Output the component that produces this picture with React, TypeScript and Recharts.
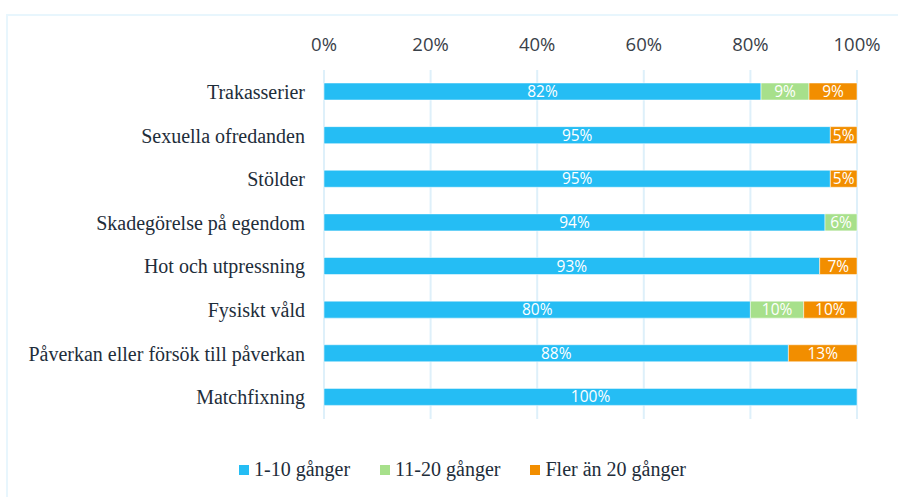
import { BarChart, Bar, XAxis, YAxis, CartesianGrid, Legend, LabelList } from 'recharts'

const categories = [
  'Trakasserier',
  'Sexuella ofredanden',
  'Stölder',
  'Skadegörelse på egendom',
  'Hot och utpressning',
  'Fysiskt våld',
  'Påverkan eller försök till påverkan',
  'Matchfixning',
]
const low = [82, 95, 95, 94, 93, 80, 88, 100]
const mid = [9, 0, 0, 6, 0, 10, 0, 0]
const high = [9, 5, 5, 0, 7, 10, 13, 0]
const xTicks = [0, 0.2, 0.4, 0.6, 0.8, 1]

const series = [
  { key: 'low', name: '1-10 gånger', color: '#25bdf4' },
  { key: 'mid', name: '11-20 gånger', color: '#a7e08b' },
  { key: 'high', name: 'Fler än 20 gånger', color: '#f28e00' },
]

const data = categories.map((name, i) => ({ name, low: low[i], mid: mid[i], high: high[i] }))

const serif = '"Liberation Serif", "DejaVu Serif", serif'
const sans = '"Open Sans", "Noto Sans", sans-serif'

function LegendContent() {
  return (
    <div style={{ display: 'flex', justifyContent: 'center', gap: 30, paddingLeft: 68, fontFamily: serif, fontSize: 20, color: '#1e2d3a' }}>
      {series.map(s => (
        <div key={s.key} style={{ display: 'flex', alignItems: 'center', gap: 5 }}>
          <span style={{ width: 10, height: 10, background: s.color, display: 'inline-block' }} />
          <span>{s.name}</span>
        </div>
      ))}
    </div>
  )
}

export default function App() {
  return (
    <div style={{ position: 'absolute', left: 0, top: 0, width: 898, height: 497, overflow: 'hidden', background: '#fff' }}>
      <div style={{ position: 'absolute', left: 6, top: 14, width: 1000, height: 600, borderTop: '2px solid #e8f6fd', borderLeft: '2px solid #e8f6fd' }} />
      <BarChart
        width={898}
        height={497}
        data={data}
        layout="vertical"
        stackOffset="expand"
        barSize={17}
        margin={{ top: 0, right: 41, left: 0, bottom: 55 }}
      >
        <CartesianGrid horizontal={false} stroke="#def0fa" strokeWidth={2} />
        <XAxis
          type="number"
          orientation="top"
          domain={[0, 1]}
          ticks={xTicks}
          tickFormatter={(v: number) => `${Math.round(v * 100)}%`}
          axisLine={false}
          tickLine={false}
          tickSize={0}
          tickMargin={19}
          height={70}
          tick={{ fill: '#3a4149', fontSize: 18.5, fontFamily: sans }}
        />
        <YAxis
          type="category"
          dataKey="name"
          width={324}
          axisLine={false}
          tickLine={false}
          tickSize={0}
          tickMargin={19}
          tick={{ fill: '#1e2d3a', fontSize: 20, fontFamily: serif }}
        />
        <Legend verticalAlign="bottom" wrapperStyle={{ bottom: 16 }} content={<LegendContent />} />
        {series.map(s => (
          <Bar key={s.key} dataKey={s.key} name={s.name} stackId="a" fill={s.color} stroke="#ffffff" strokeOpacity={0.5} strokeWidth={1} isAnimationActive={false}>
            <LabelList
              dataKey={s.key}
              position="center"
              fill="#ffffff"
              fontSize={15.5}
              fontFamily={sans}
              formatter={(v: any) => (v ? `${v}%` : '')}
            />
          </Bar>
        ))}
      </BarChart>
    </div>
  )
}
